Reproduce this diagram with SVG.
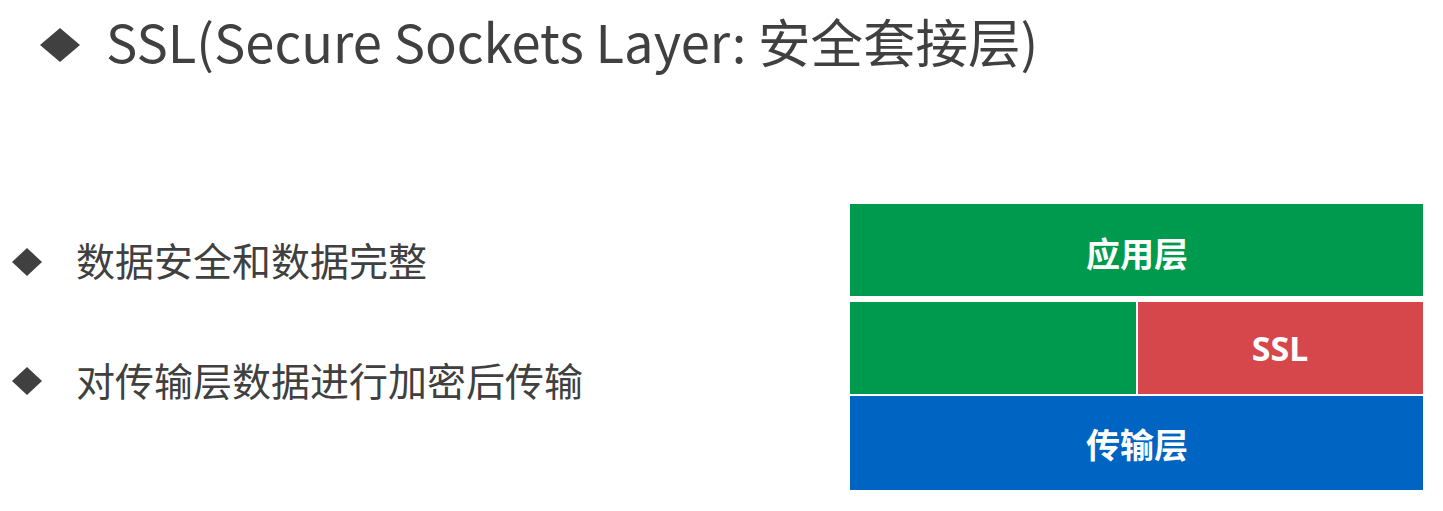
<svg xmlns="http://www.w3.org/2000/svg" width="1443" height="511" viewBox="0 0 1443 511">
<style>
.t{font-family:"Noto Sans CJK SC","Noto Sans",sans-serif;fill:#404040}
.lbl{font-family:"Noto Sans CJK SC","Noto Sans",sans-serif;font-weight:bold;fill:#ffffff;text-anchor:middle;dominant-baseline:central}
.dia{fill:#404040}
</style>
<rect width="1443" height="511" fill="#ffffff"/>
<g id="title">
<polygon class="dia" points="60,28 80,45 60,62 40,45"/>
<text class="t" x="106" y="63" font-size="52.5">SSL(Secure Sockets Layer: 安全套接层)</text>
</g>
<g id="bullet1">
<polygon class="dia" points="27,248 42,262 27,276 12,262"/>
<text class="t" x="76" y="276" font-size="39">数据安全和数据完整</text>
</g>
<g id="bullet2">
<polygon class="dia" points="27,367 42,381 27,395 12,381"/>
<text class="t" x="76" y="396" font-size="39">对传输层数据进行加密后传输</text>
</g>
<g id="app">
<rect x="850" y="204" width="573" height="92" fill="#009a4e"/>
<text class="lbl" x="1137" y="252" font-size="34">应用层</text>
</g>
<g id="mid">
<rect x="850" y="302" width="286" height="92" fill="#009a4e"/>
</g>
<g id="ssl">
<rect x="1138" y="302" width="285" height="92" fill="#d6474b"/>
<text class="lbl" x="1280" y="348" font-size="34" style="font-family:'Noto Sans',sans-serif">SSL</text>
</g>
<g id="transport">
<rect x="850" y="396" width="573" height="94" fill="#0064c3"/>
<text class="lbl" x="1137" y="443" font-size="34">传输层</text>
</g>
<g id="connectors"/>
</svg>
